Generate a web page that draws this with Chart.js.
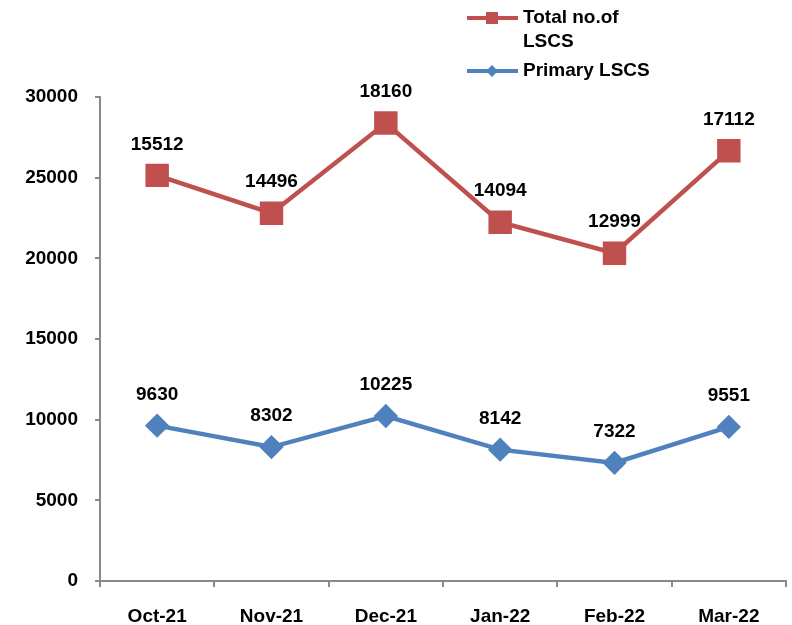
<!DOCTYPE html>
<html>
<head>
<meta charset="utf-8">
<script src="https://cdn.jsdelivr.net/npm/chart.js@4.4.0/dist/chart.umd.min.js"></script>
<style>
  html, body { margin: 0; padding: 0; background: #fff; overflow: hidden; }
  canvas { display: block; }
</style>
</head>
<body>
<canvas id="lscs" width="792" height="625"></canvas>
<script>
const months = ['Oct-21', 'Nov-21', 'Dec-21', 'Jan-22', 'Feb-22', 'Mar-22'];
const primaryLSCS = [9630, 8302, 10225, 8142, 7322, 9551];
const totalLSCS = [15512, 14496, 18160, 14094, 12999, 17112];
const yTicks = [0, 5000, 10000, 15000, 20000, 25000, 30000];

const red = '#C0504D';
const blue = '#4F81BD';
const axisGray = '#8A8A8A';
const font = "'Liberation Sans', Arial, sans-serif";

// values written above each point (raw, not the stacked sum)
const valueLabels = {
  id: 'valueLabels',
  afterDatasetsDraw(chart) {
    const ctx = chart.ctx;
    ctx.save();
    ctx.font = 'bold 19px ' + font;
    ctx.fillStyle = '#000';
    ctx.textAlign = 'center';
    ctx.textBaseline = 'middle';
    chart.data.datasets.forEach((ds, i) => {
      chart.getDatasetMeta(i).data.forEach((pt, j) => {
        ctx.fillText(String(ds.data[j]), pt.x, pt.y - 31);
      });
    });
    ctx.restore();
  }
};

// legend top right, like the excel one
const sideLegend = {
  id: 'sideLegend',
  afterDraw(chart) {
    const ctx = chart.ctx;
    const rows = [
      { ds: chart.data.datasets[1], lines: ['Total no.of', 'LSCS'], y: 18 },
      { ds: chart.data.datasets[0], lines: ['Primary LSCS'], y: 71 }
    ];
    ctx.save();
    rows.forEach(r => {
      ctx.strokeStyle = r.ds.borderColor;
      ctx.lineWidth = 4;
      ctx.beginPath();
      ctx.moveTo(467, r.y);
      ctx.lineTo(518, r.y);
      ctx.stroke();
      ctx.fillStyle = r.ds.borderColor;
      if (r.ds.pointStyle === 'rect') {
        ctx.fillRect(486, r.y - 6, 12, 12);
      } else {
        ctx.beginPath();
        ctx.moveTo(492, r.y - 6);
        ctx.lineTo(498, r.y);
        ctx.lineTo(492, r.y + 6);
        ctx.lineTo(486, r.y);
        ctx.closePath();
        ctx.fill();
      }
      ctx.fillStyle = '#000';
      ctx.font = 'bold 19px ' + font;
      ctx.textAlign = 'left';
      ctx.textBaseline = 'middle';
      r.lines.forEach((t, k) => ctx.fillText(t, 523, r.y + k * 24));
    });
    ctx.restore();
  }
};

new Chart('lscs', {
  type: 'line',
  data: {
    labels: months,
    datasets: [
      {
        label: 'Primary LSCS',
        data: primaryLSCS,
        borderColor: blue,
        backgroundColor: blue,
        borderWidth: 4.5,
        pointStyle: 'rectRot',
        pointRadius: 9,
        pointHoverRadius: 9,
        tension: 0,
        fill: false
      },
      {
        label: 'Total no.of LSCS',
        data: totalLSCS,
        borderColor: red,
        backgroundColor: red,
        borderWidth: 4.5,
        pointStyle: 'rect',
        pointRadius: 13.4,
        pointHoverRadius: 13.4,
        tension: 0,
        fill: false
      }
    ]
  },
  options: {
    responsive: false,
    animation: false,
    layout: { autoPadding: false, padding: { top: 97, right: 6, left: 0, bottom: 0 } },
    scales: {
      x: {
        offset: true,
        grid: { offset: true, drawOnChartArea: false, drawTicks: true, tickLength: 6, color: axisGray, lineWidth: 2 },
        border: { color: axisGray, width: 2 },
        ticks: { color: '#000', padding: 18, font: { family: font, size: 19, weight: 'bold' } },
        afterFit(scale) {
          scale.height = 44;
          scale.paddingLeft = 0;
          scale.paddingRight = 0;
        }
      },
      y: {
        stacked: true,
        min: 0,
        max: 30000,
        afterBuildTicks(scale) { scale.ticks = yTicks.map(v => ({ value: v })); },
        grid: { drawOnChartArea: false, drawTicks: true, tickLength: 5, color: axisGray, lineWidth: 2 },
        border: { color: axisGray, width: 2 },
        ticks: {
          color: '#000',
          padding: 17,
          font: { family: font, size: 19, weight: 'bold' },
          callback: v => String(v)
        },
        afterFit(scale) {
          scale.width = 100;
          scale.paddingTop = 0;
          scale.paddingBottom = 0;
        }
      }
    },
    plugins: {
      legend: { display: false },
      tooltip: { enabled: false }
    }
  },
  plugins: [valueLabels, sideLegend]
});
</script>
</body>
</html>
